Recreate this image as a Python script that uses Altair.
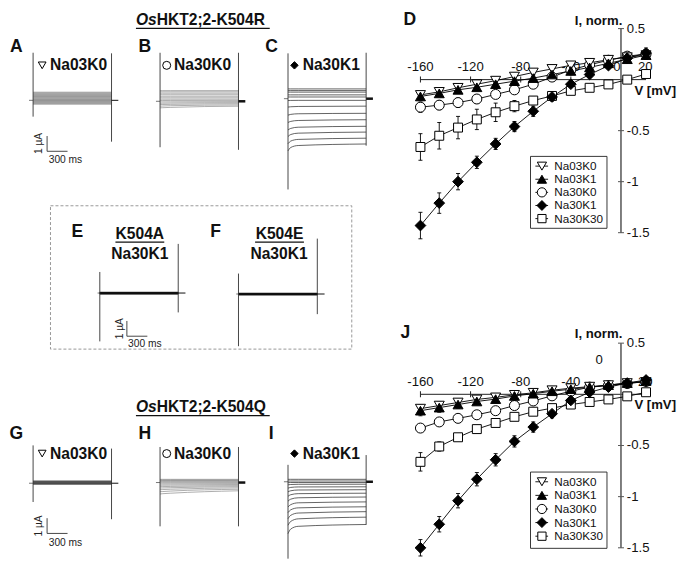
import altair as alt
import pandas as pd

W, H = 669, 552
SX, SY = W / 685.0, H / 568.0
FS = (SX + SY) / 2
FONT = "Liberation Sans"


def X(v):
    return round(v * SX, 2)


def Y(v):
    return round(v * SY, 2)


# ---------------- IV data (normalised current) ----------------
V = [-160, -145, -130, -115, -100, -85, -70, -55, -40, -25, -10, 5, 20]
SERIES = ["Na03K0", "Na03K1", "Na30K0", "Na30K1", "Na30K30"]

# Panel D (K504R)
D_Na03K0 = [-0.15, -0.12, -0.08, -0.045, -0.01, 0.03, 0.07, 0.105, 0.14, 0.165, 0.195, 0.22, 0.24]
D_Na03K1 = [-0.165, -0.135, -0.10, -0.075, -0.045, -0.015, 0.015, 0.05, 0.085, 0.12, 0.16, 0.20, 0.24]
D_Na30K0 = [-0.27, -0.25, -0.225, -0.19, -0.145, -0.10, -0.045, 0.025, 0.095, 0.145, 0.19, 0.23, 0.25]
D_Na30K1 = [-1.43, -1.21, -1.00, -0.81, -0.63, -0.46, -0.31, -0.17, -0.045, 0.05, 0.137, 0.21, 0.26]
D_Na30K30 = [-0.66, -0.55, -0.47, -0.39, -0.32, -0.26, -0.205, -0.16, -0.11, -0.08, -0.047, 0.0, 0.055]
D_err_Na03K0 = [0.03, 0.03, 0.025, 0.025, 0.02, 0.02, 0.02, 0.02, 0.02, 0.02, 0.02, 0.03, 0.04]
D_err_Na03K1 = [0.035, 0.03, 0.03, 0.025, 0.025, 0.02, 0.02, 0.02, 0.02, 0.02, 0.025, 0.03, 0.04]
D_err_Na30K0 = [0.05, 0.045, 0.045, 0.04, 0.04, 0.035, 0.03, 0.025, 0.02, 0.02, 0.025, 0.03, 0.04]
D_err_Na30K1 = [0.13, 0.10, 0.08, 0.06, 0.055, 0.05, 0.05, 0.04, 0.035, 0.03, 0.03, 0.04, 0.05]
D_err_Na30K30 = [0.13, 0.13, 0.11, 0.10, 0.09, 0.055, 0.04, 0.03, 0.02, 0.02, 0.015, 0.015, 0.02]

# Panel J (K504Q)
J_Na03K0 = [-0.14, -0.11, -0.08, -0.05, -0.03, -0.005, 0.015, 0.04, 0.06, 0.075, 0.09, 0.11, 0.12]
J_Na03K1 = [-0.16, -0.13, -0.10, -0.07, -0.047, -0.016, 0.006, 0.03, 0.05, 0.07, 0.09, 0.11, 0.13]
J_Na30K0 = [-0.33, -0.27, -0.235, -0.20, -0.16, -0.11, -0.065, -0.015, 0.03, 0.07, 0.085, 0.105, 0.125]
J_Na30K1 = [-1.50, -1.27, -1.04, -0.83, -0.64, -0.46, -0.32, -0.19, -0.06, 0.02, 0.07, 0.11, 0.14]
J_Na30K30 = [-0.66, -0.51, -0.42, -0.34, -0.28, -0.22, -0.17, -0.135, -0.10, -0.075, -0.05, -0.02, 0.02]
J_err_Na03K0 = [0.04, 0.035, 0.03, 0.025, 0.02, 0.02, 0.02, 0.015, 0.015, 0.015, 0.015, 0.02, 0.025]
J_err_Na03K1 = [0.05, 0.045, 0.035, 0.03, 0.025, 0.02, 0.02, 0.02, 0.02, 0.02, 0.02, 0.02, 0.03]
J_err_Na30K0 = [0.025, 0.02, 0.02, 0.02, 0.02, 0.02, 0.015, 0.015, 0.015, 0.015, 0.015, 0.02, 0.02]
J_err_Na30K1 = [0.08, 0.075, 0.07, 0.065, 0.06, 0.055, 0.05, 0.04, 0.03, 0.02, 0.02, 0.02, 0.03]
J_err_Na30K30 = [0.09, 0.045, 0.03, 0.025, 0.02, 0.02, 0.015, 0.015, 0.015, 0.015, 0.015, 0.015, 0.015]

D_I = dict(zip(SERIES, [D_Na03K0, D_Na03K1, D_Na30K0, D_Na30K1, D_Na30K30]))
D_E = dict(zip(SERIES, [D_err_Na03K0, D_err_Na03K1, D_err_Na30K0, D_err_Na30K1, D_err_Na30K30]))
J_I = dict(zip(SERIES, [J_Na03K0, J_Na03K1, J_Na30K0, J_Na30K1, J_Na30K30]))
J_E = dict(zip(SERIES, [J_err_Na03K0, J_err_Na03K1, J_err_Na30K0, J_err_Na30K1, J_err_Na30K30]))

MARK = {
    "Na03K0": ("triangle-down", "white", 100),
    "Na03K1": ("triangle-up", "black", 100),
    "Na30K0": ("circle", "white", 100),
    "Na30K1": ("diamond", "black", 115),
    "Na30K30": ("square", "white", 80),
}

# ---------------- current traces (uA), 13 voltage steps ----------------
T_FLAT = [0, 1150]
T_RELAX = [0, 40, 150, 1150]

A_lv = [-0.25, -0.19, -0.13, -0.07, -0.01, 0.05, 0.11, 0.18, 0.25, 0.32, 0.39, 0.46, 0.53]
B_t0 = [-0.43, -0.32, -0.22, -0.13, -0.04, 0.05, 0.14, 0.23, 0.33, 0.43, 0.53, 0.62, 0.70]
B_t40 = [-0.42, -0.31, -0.21, -0.125, -0.04, 0.05, 0.14, 0.23, 0.33, 0.43, 0.53, 0.62, 0.70]
B_t150 = [-0.40, -0.29, -0.20, -0.115, -0.035, 0.055, 0.14, 0.23, 0.33, 0.43, 0.53, 0.62, 0.70]
B_end = [-0.32, -0.24, -0.16, -0.09, -0.02, 0.06, 0.14, 0.23, 0.33, 0.43, 0.53, 0.62, 0.70]
C_t0 = [-3.42, -2.95, -2.48, -2.05, -1.56, -1.08, -0.55, -0.12, 0.11, 0.25, 0.43, 0.53, 0.64]
C_t40 = [-3.20, -2.78, -2.35, -1.95, -1.49, -1.03, -0.53, -0.115, 0.11, 0.25, 0.43, 0.53, 0.64]
C_t150 = [-3.07, -2.67, -2.26, -1.87, -1.43, -0.99, -0.51, -0.11, 0.11, 0.25, 0.43, 0.53, 0.64]
C_end = [-2.97, -2.59, -2.19, -1.81, -1.38, -0.96, -0.49, -0.11, 0.11, 0.25, 0.43, 0.53, 0.64]
E_lv = [-0.07, -0.05, -0.04, -0.03, -0.02, -0.01, 0.0, 0.0, 0.01, 0.02, 0.03, 0.04, 0.05]
F_lv = [-0.06, -0.05, -0.04, -0.03, -0.02, -0.01, 0.0, 0.01, 0.01, 0.02, 0.03, 0.04, 0.05]
G_lv = [-0.07, -0.05, -0.035, -0.02, -0.005, 0.01, 0.03, 0.05, 0.07, 0.09, 0.11, 0.13, 0.15]
H_t0 = [-0.75, -0.60, -0.47, -0.36, -0.27, -0.18, -0.10, -0.03, 0.03, 0.08, 0.13, 0.17, 0.21]
H_t40 = [-0.73, -0.59, -0.46, -0.355, -0.265, -0.175, -0.098, -0.028, 0.03, 0.082, 0.13, 0.17, 0.21]
H_t150 = [-0.70, -0.56, -0.44, -0.34, -0.255, -0.17, -0.095, -0.025, 0.032, 0.085, 0.13, 0.17, 0.21]
H_end = [-0.54, -0.44, -0.35, -0.27, -0.20, -0.13, -0.07, -0.01, 0.04, 0.09, 0.13, 0.17, 0.21]
I_t0 = [-3.40, -2.85, -2.42, -2.02, -1.65, -1.27, -0.95, -0.66, -0.42, -0.20, -0.06, 0.05, 0.16]
I_t40 = [-3.10, -2.60, -2.20, -1.84, -1.50, -1.14, -0.85, -0.59, -0.37, -0.18, -0.05, 0.05, 0.16]
I_t150 = [-2.92, -2.43, -2.05, -1.71, -1.38, -1.05, -0.78, -0.54, -0.34, -0.165, -0.05, 0.05, 0.16]
I_end = [-2.80, -2.32, -1.96, -1.64, -1.32, -1.00, -0.75, -0.52, -0.33, -0.16, -0.05, 0.05, 0.16]

# capacitive transients: (start_hi, start_lo, end_hi, end_lo) in uA
TR_A = (3.12, -1.07, 3.08, -2.71)
TR_B = (3.18, -3.01, 3.18, -3.18)
TR_C = (2.97, -5.95, 3.01, -3.08)
TR_E = (1.38, -3.17, 3.22, -1.27)
TR_F = (1.34, -3.42, 3.63, -1.32)
TR_G = (2.48, -1.23, 2.27, -2.36)
TR_H = (2.33, -2.87, 2.33, -2.87)
TR_I = (1.11, -5.04, 1.75, -2.82)

ONE = pd.DataFrame({"a": [0]})
PU = 15.7  # px per uA in the reference


def txt(s, x, y, size, weight="normal", style="normal", align="left", angle=0, color="#111"):
    return alt.Chart(ONE).mark_text(
        text=s, font=FONT, fontSize=round(size * FS, 2), fontWeight=weight, fontStyle=style,
        align=align, baseline="middle", angle=angle, color=color
    ).encode(x=alt.value(X(x)), y=alt.value(Y(y)))


def sym(shape, x, y, size, fill):
    return alt.Chart(ONE).mark_point(
        shape=shape, size=size, filled=True, fill=fill, stroke="black", strokeWidth=1, opacity=1
    ).encode(x=alt.value(X(x)), y=alt.value(Y(y)))


def hline(x1, x2, y, w=1.0, color="#111"):
    return alt.Chart(ONE).mark_rule(color=color, strokeWidth=w).encode(
        x=alt.value(X(x1)), x2=alt.value(X(x2)), y=alt.value(Y(y)))


def iv_panel(I, E, y0, pu, box, rows_y, xlabels, zero_lab):
    xs = alt.Scale(domain=[-160, 20], range=[X(422.3), X(653.3)], nice=False, zero=False)
    ys = alt.Scale(domain=[-1.5, 0.5], range=[Y(y0 + 1.5 * pu), Y(y0 - 0.5 * pu)], nice=False, zero=False)

    def ex(f="V"):
        return alt.X(f + ":Q", scale=xs, axis=None)

    def ey(f="I"):
        return alt.Y(f + ":Q", scale=ys, axis=None)

    recs, caps = [], []
    for s in SERIES:
        for v, i, e in zip(V, I[s], E[s]):
            recs.append({"s": s, "V": v, "I": i, "lo": i - e, "hi": i + e})
            caps.append({"V": v, "c": i - e})
            caps.append({"V": v, "c": i + e})
    df = pd.DataFrame(recs)
    cdf = pd.DataFrame(caps)
    L = []
    # axes
    L.append(alt.Chart(pd.DataFrame({"V": [-160], "V2": [20], "I": [0]})).mark_rule(
        color="#222", strokeWidth=1).encode(x=ex(), x2=alt.X2("V2"), y=ey()))
    L.append(alt.Chart(pd.DataFrame({"V": [0], "I": [-1.5], "I2": [0.5]})).mark_rule(
        color="#555", strokeWidth=1.5).encode(x=ex(), y=ey(), y2=alt.Y2("I2")))
    L.append(alt.Chart(pd.DataFrame({"V": [-160, -120, -80, -40], "I": [0, 0, 0, 0]})).mark_tick(
        orient="vertical", size=6, thickness=1, color="#222", opacity=1).encode(x=ex(), y=ey()))
    L.append(alt.Chart(pd.DataFrame({"V": [0, 0, 0, 0], "I": [0.5, -0.5, -1.0, -1.5]})).mark_tick(
        orient="horizontal", size=6, thickness=1, color="#555", opacity=1).encode(x=ex(), y=ey()))
    # tick labels
    xl = pd.DataFrame(xlabels)
    L.append(alt.Chart(xl).mark_text(font=FONT, fontSize=round(13.5 * FS, 2), color="#111",
                                     baseline="middle", dy=round(-13 * SY, 2)).encode(
        x=ex(), y=ey(), text="t:N"))
    zl = pd.DataFrame([zero_lab])
    L.append(alt.Chart(zl).mark_text(font=FONT, fontSize=round(13.5 * FS, 2), color="#111",
                                     baseline="middle", dy=round(zero_lab["dy"] * SY, 2)).encode(
        x=ex(), y=ey(), text="t:N"))
    yl = pd.DataFrame({"V": [0, 0, 0, 0], "I": [0.5, -0.5, -1.0, -1.5], "t": ["0.5", "-0.5", "-1", "-1.5"]})
    L.append(alt.Chart(yl).mark_text(font=FONT, fontSize=round(13.5 * FS, 2), color="#111",
                                     align="left", baseline="middle", dx=round(6 * SX, 2)).encode(
        x=ex(), y=ey(), text="t:N"))
    # connecting lines
    L.append(alt.Chart(df).mark_line(color="black", strokeWidth=0.9).encode(
        x=ex(), y=ey(), detail="s:N"))
    # error bars
    L.append(alt.Chart(df).mark_rule(color="black", strokeWidth=0.9).encode(
        x=ex(), y=ey("lo"), y2=alt.Y2("hi")))
    L.append(alt.Chart(cdf).mark_tick(orient="horizontal", size=4, thickness=0.9, color="black",
                                      opacity=1).encode(x=ex(), y=ey("c")))
    # points
    for s in ["Na30K30", "Na30K0", "Na03K0", "Na03K1", "Na30K1"]:
        shape, fill, size = MARK[s]
        L.append(alt.Chart(df[df["s"] == s]).mark_point(
            shape=shape, size=size, filled=True, fill=fill, stroke="black", strokeWidth=1, opacity=1
        ).encode(x=ex(), y=ey()))
    # legend
    bx0, by0, bx1, by1 = box
    L.append(alt.Chart(ONE).mark_rect(fill="white", stroke="#222", strokeWidth=0.9).encode(
        x=alt.value(X(bx0)), x2=alt.value(X(bx1)), y=alt.value(Y(by0)), y2=alt.value(Y(by1))))
    for s, ry in zip(SERIES, rows_y):
        shape, fill, size = MARK[s]
        L.append(hline(540, 553, ry, 0.9, "black"))
        L.append(sym(shape, 546.7, ry, size * 0.85, fill))
        L.append(txt(s, 559.3, ry, 12))
    return alt.layer(*L)


def trace_panel(x0, x1, base, times, levels, tr, color, sw, tail_w, tail_len=100, stub_len=60, sb=None):
    xs = alt.Scale(domain=[0, 1150], range=[X(x0), X(x1)], nice=False, zero=False)
    ys = alt.Scale(domain=[-6, 6], range=[Y(base + 6 * PU), Y(base - 6 * PU)], nice=False, zero=False)

    def ex(f="t"):
        return alt.X(f + ":Q", scale=xs, axis=None)

    def ey(f="I"):
        return alt.Y(f + ":Q", scale=ys, axis=None)

    recs = []
    for j, t in enumerate(times):
        for k, val in enumerate(levels[j]):
            recs.append({"k": k, "t": t, "I": val})
    df = pd.DataFrame(recs)
    L = []
    L.append(alt.Chart(pd.DataFrame({"t": [-stub_len], "t2": [0], "I": [0]})).mark_rule(
        color="#666", strokeWidth=0.9).encode(x=ex(), x2=alt.X2("t2"), y=ey()))
    L.append(alt.Chart(df).mark_line(color=color, strokeWidth=sw, interpolate="monotone").encode(
        x=ex(), y=ey(), detail="k:N"))
    trdf = pd.DataFrame({"t": [0, 1150], "lo": [tr[1], tr[3]], "hi": [tr[0], tr[2]]})
    L.append(alt.Chart(trdf).mark_rule(color="#333", strokeWidth=0.9).encode(
        x=ex(), y=ey("lo"), y2=alt.Y2("hi")))
    L.append(alt.Chart(pd.DataFrame({"t": [1150], "t2": [1150 + tail_len], "I": [0]})).mark_rule(
        color="#111", strokeWidth=tail_w).encode(x=ex(), x2=alt.X2("t2"), y=ey()))
    if sb is not None:
        sbt, top = sb["t"], sb["top"]
        L.append(alt.Chart(pd.DataFrame({"t": [sbt], "I": [top - 1.0], "I2": [top]})).mark_rule(
            color="#333", strokeWidth=0.9).encode(x=ex(), y=ey(), y2=alt.Y2("I2")))
        L.append(alt.Chart(pd.DataFrame({"t": [sbt], "t2": [sbt + 300], "I": [top - 1.0]})).mark_rule(
            color="#333", strokeWidth=0.9).encode(x=ex(), x2=alt.X2("t2"), y=ey()))
        L.append(alt.Chart(pd.DataFrame({"t": [sb["ua_t"]], "I": [sb["ua_I"]], "s": ["1 µA"]})).mark_text(
            font=FONT, fontSize=round(10.5 * FS, 2), angle=270, baseline="middle", align="center",
            color="#222").encode(x=ex(), y=ey(), text="s:N"))
        L.append(alt.Chart(pd.DataFrame({"t": [sb["ms_t"]], "I": [sb["ms_I"]], "s": ["300 ms"]})).mark_text(
            font=FONT, fontSize=round(10.5 * FS, 2), baseline="middle", align="left",
            color="#222").encode(x=ex(), y=ey(), text="s:N"))
    return alt.layer(*L)


panels = []
# ---- top row: K504R ----
panels.append(trace_panel(25.7, 106, 95, T_FLAT, [A_lv, A_lv], TR_A, "#555", 0.6, 1.0,
                          sb={"t": 205, "top": -2.34, "ua_t": 86, "ua_I": -2.83, "ms_t": 229, "ms_I": -3.885}))
panels.append(trace_panel(155.7, 236, 96, T_RELAX, [B_t0, B_t40, B_t150, B_end], TR_B, "#777", 0.6, 2.5))
panels.append(trace_panel(286.7, 366.7, 93.3, T_RELAX, [C_t0, C_t40, C_t150, C_end], TR_C, "#222", 0.7, 2.5))
# ---- boxed: K504A / K504E ----
panels.append(trace_panel(94, 174.3, 293.3, T_FLAT, [E_lv, E_lv], TR_E, "#111", 0.7, 1.0, tail_len=106,
                          stub_len=33,
                          sb={"t": 397, "top": -1.83, "ua_t": 290, "ua_I": -2.34, "ms_t": 415, "ms_I": -3.36}))
panels.append(trace_panel(236, 316.7, 294.3, T_FLAT, [F_lv, F_lv], TR_F, "#111", 0.7, 1.0, tail_len=106,
                          stub_len=33))
# ---- bottom row: K504Q ----
panels.append(trace_panel(25.7, 106, 489, T_FLAT, [G_lv, G_lv], TR_G, "#444", 0.6, 1.0,
                          sb={"t": 205, "top": -2.29, "ua_t": 86, "ua_I": -2.8, "ms_t": 229, "ms_I": -3.885}))
panels.append(trace_panel(155.7, 236, 488.3, T_RELAX, [H_t0, H_t40, H_t150, H_end], TR_H, "#777", 0.6, 2.5))
panels.append(trace_panel(286.7, 366.7, 487.5, T_RELAX, [I_t0, I_t40, I_t150, I_end], TR_I, "#222", 0.7, 2.5))

# ---- IV plots ----
XL_D = {"V": [-160, -120, -80, -40, -3.2, 19.4], "I": [0] * 6, "t": ["-160", "-120", "-80", "-40", "0", "20"]}
XL_J = {"V": [-160, -120, -80, -40, 19.4], "I": [0] * 5, "t": ["-160", "-120", "-80", "-40", "20"]}
panels.append(iv_panel(D_I, D_E, 73.7, 105.0, (535, 152.7, 613.3, 226.7),
                       [162.7, 176.2, 189.7, 203.2, 216.7], XL_D,
                       {"V": -3.2, "I": 0, "t": "", "dy": -13}))
panels.append(iv_panel(J_I, J_E, 397.5, 105.3, (535, 477.5, 613.3, 556),
                       [487.5, 501.5, 515.5, 529.5, 543.5], XL_J,
                       {"V": -17.4, "I": 0.34, "t": "0", "dy": 0}))

# ---- annotations ----
T = []
# titles
T.append(txt("Os", 131, 12.5, 16, weight="bold", style="italic"))
T.append(txt("HKT2;2-K504R", 152.3, 12.5, 16, weight="bold"))
T.append(hline(131, 268, 21, 1.2))
T.append(txt("Os", 131, 410.5, 16, weight="bold", style="italic"))
T.append(txt("HKT2;2-K504Q", 152.3, 410.5, 16, weight="bold"))
T.append(hline(131, 268, 419.5, 1.2))
# panel letters
for s, x, y in [("A", 8.5, 40), ("B", 140, 40), ("C", 270, 40), ("D", 411.5, 12),
                ("E", 71, 231), ("F", 212.5, 231), ("G", 8.5, 438.5), ("H", 140, 438.5),
                ("I", 269.5, 438.5), ("J", 407, 334)]:
    T.append(txt(s, x, y, 18, weight="bold", align="center"))
# condition labels
for yy in [59, 458.5]:
    T.append(sym("triangle-down", 35, yy, 60, "white"))
    T.append(txt("Na03K0", 43, yy, 16, weight="bold"))
    T.append(sym("circle", 162.5, yy, 64, "white"))
    T.append(txt("Na30K0", 170, yy, 16, weight="bold"))
    T.append(sym("diamond", 293.3, yy, 55, "black"))
    T.append(txt("Na30K1", 301.7, yy, 16, weight="bold"))
# boxed panels
T.append(alt.Chart(ONE).mark_rect(fill="white", fillOpacity=0, stroke="#999", strokeWidth=1,
                                  strokeDash=[3, 2]).encode(
    x=alt.value(X(43.5)), x2=alt.value(X(352)), y=alt.value(Y(203.5)), y2=alt.value(Y(351))))
T.append(txt("K504A", 135, 233, 16, weight="bold", align="center"))
T.append(hline(110, 160, 241, 1.2))
T.append(txt("Na30K1", 135, 253.5, 16, weight="bold", align="center"))
T.append(txt("K504E", 278, 233, 16, weight="bold", align="center"))
T.append(hline(253, 303, 241, 1.2))
T.append(txt("Na30K1", 277.5, 253.5, 16, weight="bold", align="center"))
# IV axis titles
T.append(txt("I, norm.", 629, 13.5, 13.5, weight="bold", align="right"))
T.append(txt("V [mV]", 684, 85, 13.5, weight="bold", align="right"))
T.append(txt("I, norm.", 629, 335, 13.5, weight="bold", align="right"))
T.append(txt("V [mV]", 684, 409, 13.5, weight="bold", align="right"))

chart = alt.layer(*panels, *T).resolve_scale(x="independent", y="independent").properties(
    width=W, height=H, padding=0, autosize=alt.AutoSizeParams(type="none"), background="white"
).configure_view(stroke=None)

chart.save("out.html", embed_options={"renderer": "svg", "actions": False})
